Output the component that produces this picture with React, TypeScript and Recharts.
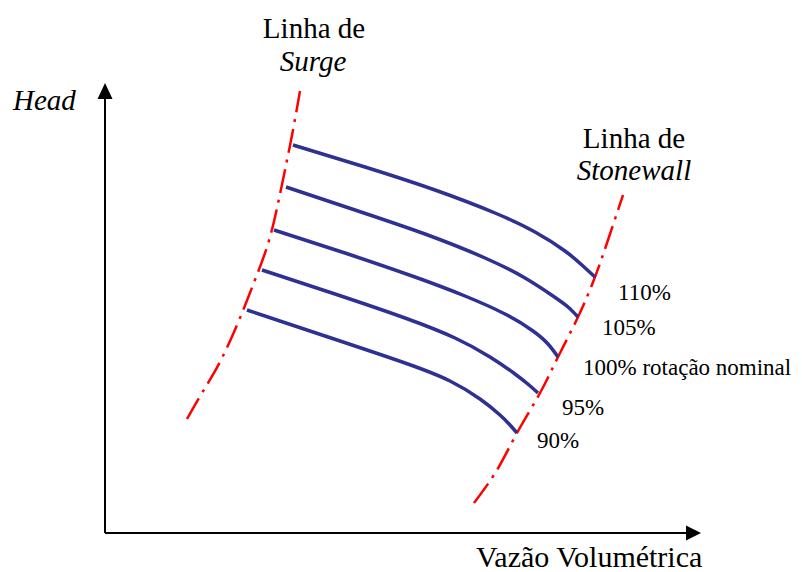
import { LineChart, Line, XAxis, YAxis, ReferenceDot, ReferenceLine } from "recharts";

// curves (x = flow, y = head, in plot units)
const speed110 = [
  { x: 188, y: 388 }, { x: 260, y: 366 }, { x: 330, y: 343 }, { x: 390, y: 320 },
  { x: 430, y: 301 }, { x: 460, y: 282 }, { x: 478, y: 267 }, { x: 490, y: 256 },
];
const speed105 = [
  { x: 181, y: 346 }, { x: 250, y: 323 }, { x: 320, y: 299 }, { x: 380, y: 275 },
  { x: 420, y: 255 }, { x: 448, y: 237 }, { x: 463, y: 226 }, { x: 473, y: 216 },
];
const speed100 = [
  { x: 169, y: 303 }, { x: 240, y: 280 }, { x: 310, y: 256 }, { x: 360, y: 237 },
  { x: 400, y: 219 }, { x: 428, y: 202 }, { x: 443, y: 189 }, { x: 453, y: 176 },
];
const speed95 = [
  { x: 157, y: 263 }, { x: 230, y: 239 }, { x: 300, y: 215 }, { x: 350, y: 195 },
  { x: 385, y: 176 }, { x: 410, y: 159 }, { x: 424, y: 148 }, { x: 433, y: 140 },
];
const speed90 = [
  { x: 142, y: 223 }, { x: 220, y: 197 }, { x: 300, y: 170 }, { x: 345, y: 152 },
  { x: 375, y: 134 }, { x: 395, y: 118 }, { x: 405, y: 108 }, { x: 412, y: 100 },
];
const surge = [
  { x: 82, y: 114 }, { x: 97, y: 140 }, { x: 117, y: 175 }, { x: 137, y: 220 },
  { x: 148, y: 248 }, { x: 162, y: 286 }, { x: 172, y: 325 }, { x: 180, y: 363 },
  { x: 188, y: 403 }, { x: 195, y: 442 },
];
const stonewall = [
  { x: 369, y: 30 }, { x: 392, y: 63 }, { x: 412, y: 100 }, { x: 435, y: 140 },
  { x: 453, y: 176 }, { x: 473, y: 216 }, { x: 490, y: 256 }, { x: 503, y: 293 },
  { x: 518, y: 338 },
];

const speedCurves = [speed110, speed105, speed100, speed95, speed90];

const labels = [
  { text: "Linha de", x: 209, y: 495, anchor: "middle", size: 29, italic: false },
  { text: "Surge", x: 208, y: 462, anchor: "middle", size: 29, italic: true },
  { text: "Head", x: -92, y: 423, anchor: "start", size: 29, italic: true },
  { text: "Linha de", x: 529, y: 385, anchor: "middle", size: 29, italic: false },
  { text: "Stonewall", x: 529, y: 353, anchor: "middle", size: 29, italic: true },
  { text: "110%", x: 513, y: 233, anchor: "start", size: 23, italic: false },
  { text: "105%", x: 497, y: 198, anchor: "start", size: 23, italic: false },
  { text: "100% rotação nominal", x: 478, y: 158, anchor: "start", size: 23, italic: false },
  { text: "95%", x: 457, y: 118, anchor: "start", size: 23, italic: false },
  { text: "90%", x: 432, y: 85, anchor: "start", size: 23, italic: false },
  { text: "Vazão Volumétrica", x: 371, y: -34, anchor: "start", size: 30, italic: false },
];

const FONT = '"Liberation Serif", "Times New Roman", "DejaVu Serif", serif';

const arrowRight = (p: any) => (
  <path d={`M${p.cx},${p.cy} L${p.cx - 15},${p.cy - 7.5} L${p.cx - 15},${p.cy + 7.5} Z`} fill="#000" />
);
const arrowUp = (p: any) => (
  <path d={`M${p.cx},${p.cy} L${p.cx - 7.5},${p.cy + 16} L${p.cx + 7.5},${p.cy + 16} Z`} fill="#000" />
);

export default function App() {
  return (
    <div style={{ position: "absolute", left: 0, top: 0, background: "#fff", fontFamily: FONT }}>
      <LineChart
        width={802}
        height={572}
        margin={{ top: 83, right: 101, bottom: 39, left: 105 }}
      >
        <XAxis type="number" dataKey="x" domain={[0, 596]} allowDataOverflow hide />
        <YAxis type="number" domain={[0, 450]} allowDataOverflow hide />
        <ReferenceLine
          segment={[{ x: 0, y: 0 }, { x: 584, y: 0 }]}
          stroke="#000"
          strokeWidth={2}
          ifOverflow="visible"
        />
        <ReferenceLine
          segment={[{ x: 0, y: 0 }, { x: 0, y: 436 }]}
          stroke="#000"
          strokeWidth={2}
          ifOverflow="visible"
        />
        <Line
          data={surge}
          dataKey="y"
          type="natural"
          stroke="#ff0000"
          strokeWidth={2.5}
          strokeDasharray="24 7 3 7"
          dot={false}
          activeDot={false}
          isAnimationActive={false}
        />
        <Line
          data={stonewall}
          dataKey="y"
          type="natural"
          stroke="#ff0000"
          strokeWidth={2.5}
          strokeDasharray="24 7 3 7"
          dot={false}
          activeDot={false}
          isAnimationActive={false}
        />
        {speedCurves.map((c, i) => (
          <Line
            key={i}
            data={c}
            dataKey="y"
            type="natural"
            stroke="#2e3192"
            strokeWidth={3.5}
            dot={false}
            activeDot={false}
            isAnimationActive={false}
          />
        ))}
        <ReferenceDot x={596} y={0} ifOverflow="visible" shape={arrowRight} />
        <ReferenceDot x={0} y={450} ifOverflow="visible" shape={arrowUp} />
        {labels.map((l, i) => (
          <ReferenceDot
            key={"l" + i}
            x={l.x}
            y={l.y}
            ifOverflow="visible"
            shape={(p: any) => (
              <text
                x={p.cx}
                y={p.cy}
                textAnchor={l.anchor}
                style={{
                  fontFamily: FONT,
                  fontSize: l.size,
                  fontStyle: l.italic ? "italic" : "normal",
                }}
                fill="#000"
              >
                {l.text}
              </text>
            )}
          />
        ))}
      </LineChart>
    </div>
  );
}
